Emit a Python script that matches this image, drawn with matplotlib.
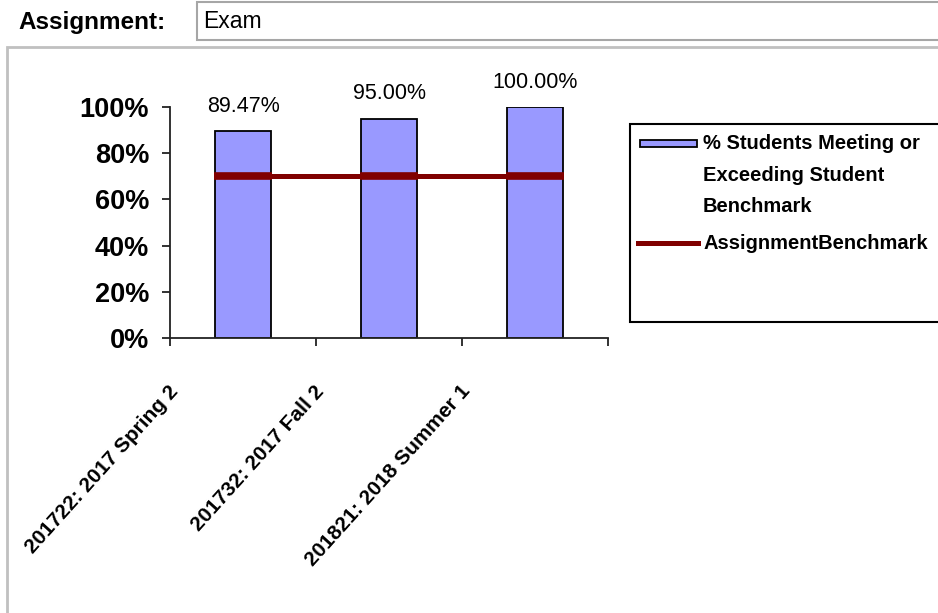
import matplotlib
matplotlib.use("Agg")
from matplotlib import pyplot as plt
from matplotlib import transforms
from matplotlib.patches import Rectangle
from matplotlib.lines import Line2D

# data
terms = ["201722: 2017 Spring 2", "201732: 2017 Fall 2", "201821: 2018 Summer 1"]
pct_meeting = [0.8947, 0.95, 1.00]
benchmark = [0.70, 0.70, 0.70]
bar_labels = ["89.47%", "95.00%", "100.00%"]
y_ticks = [0, 0.2, 0.4, 0.6, 0.8, 1.0]
legend_labels = ["% Students Meeting or\nExceeding Student\nBenchmark", "AssignmentBenchmark"]
assignment = "Exam"

W, H = 938, 613
plt.rcParams['font.family'] = ['Liberation Sans', 'DejaVu Sans']


def fx(x):
    return x / W


def fy(y):
    return 1 - y / H


fig = plt.figure(figsize=(W / 100, H / 100), dpi=100)

# header: label + input box
fig.text(fx(18), fy(23), "Assignment:", fontsize=17.5, fontweight='bold', va='center', ha='left')
fig.patches.append(Rectangle((fx(197), fy(40)), fx(760), 38 / H, transform=fig.transFigure,
                             facecolor='white', edgecolor='#a6a6a6', lw=1.5))
fig.text(fx(203), fy(22), assignment, fontsize=16.5, va='center', ha='left')

# chart area border
fig.patches.append(Rectangle((fx(7), fy(640)), fx(960), 593 / H, transform=fig.transFigure,
                             facecolor='none', edgecolor='#c0c0c0', lw=2))

ax = fig.add_axes([fx(170), fy(338), (608 - 170) / W, (338 - 107) / H])
x = list(range(len(terms)))

ax.bar(x, pct_meeting, width=0.385, color='#9999ff', edgecolor='black', linewidth=1.3, zorder=2)
ax.plot(x, benchmark, color='#800000', lw=3.6, marker='_', markersize=42, markeredgewidth=5.5, zorder=3)

for i, lab in enumerate(bar_labels):
    ax.annotate(lab, (x[i], pct_meeting[i]), xytext=(0, 18), textcoords='offset points',
                ha='center', va='center', fontsize=15.5)

ax.set_xlim(-0.5, len(terms) - 0.5)
ax.set_ylim(0, 1)
ax.set_yticks(y_ticks)
ax.set_yticklabels(["%d%%" % round(v * 100) for v in y_ticks], fontsize=19.5, fontweight='bold')
ax.set_xticks([i - 0.5 for i in range(len(terms) + 1)])
ax.set_xticklabels([])
ax.tick_params(axis='both', direction='out', length=6, width=1.3, color='#222222')
ax.tick_params(axis='y', pad=9)
for s in ['top', 'right']:
    ax.spines[s].set_visible(False)
for s in ['left', 'bottom']:
    ax.spines[s].set_linewidth(1.3)
    ax.spines[s].set_color('#222222')

lab_trans = ax.get_xaxis_transform() + transforms.ScaledTranslation(-0.68, -0.50, fig.dpi_scale_trans)
for i, t in enumerate(terms):
    ax.text(x[i], 0, t, transform=lab_trans, rotation=48, rotation_mode='anchor',
            ha='right', va='center', fontsize=15, fontweight='bold')

# legend box drawn by hand
fig.patches.append(Rectangle((fx(630), fy(322)), fx(330), 198 / H, transform=fig.transFigure,
                             facecolor='white', edgecolor='black', lw=1.5, zorder=1))
fig.patches.append(Rectangle((fx(640), fy(147)), fx(57), 7 / H, transform=fig.transFigure,
                             facecolor='#9999ff', edgecolor='black', lw=1.3, zorder=2))
fig.lines.append(Line2D([fx(638), fx(698)], [fy(243), fy(243)], transform=fig.transFigure,
                        color='#800000', lw=3.6, zorder=2))
fig.text(fx(703), fy(134), legend_labels[0], fontsize=14.5, fontweight='bold', va='top', ha='left',
         linespacing=1.85)
fig.text(fx(703), fy(243), legend_labels[1], fontsize=14.5, fontweight='bold', va='center', ha='left')

fig.savefig("out.png", dpi=100)
